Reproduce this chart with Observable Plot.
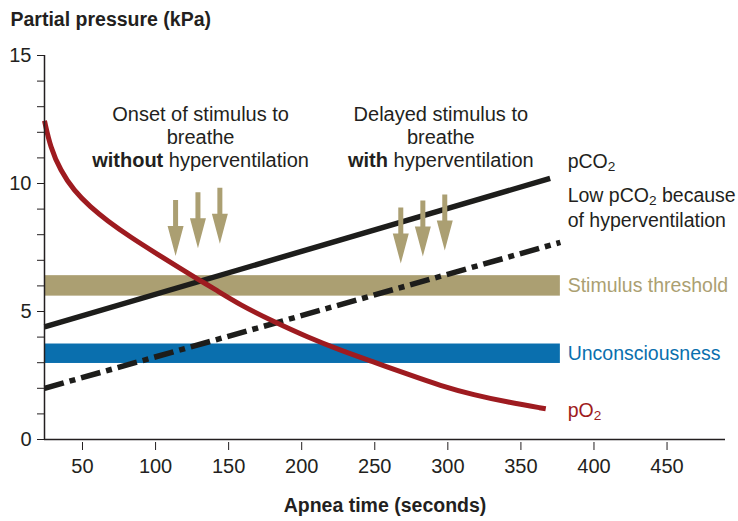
<!DOCTYPE html>
<html>
<head>
<meta charset="utf-8">
<script src="https://cdn.jsdelivr.net/npm/d3@7"></script>
<script src="https://cdn.jsdelivr.net/npm/@observablehq/plot@0.6"></script>
<style>
  body { margin: 0; background: #fff; }
</style>
</head>
<body>
<div id="chart"></div>
<script>
// ---------- data ----------
const xDomain = [24, 490];
const yDomain = [0, 15];
const xTicks = [50, 100, 150, 200, 250, 300, 350, 400, 450];
const yTicks = [0, 1, 2, 3, 4, 5, 6, 7, 8, 9, 10, 11, 12, 13, 14, 15];
const yLabeledTicks = [0, 5, 10, 15];

// pO2 curve (kPa) vs apnea time (s)
const pO2Time  = [24, 28, 35, 44, 55.5, 66.9, 82.9, 101, 117, 130.8, 139.7, 158, 181, 203.9, 226.7, 249.5, 272, 295, 317.8, 340.9, 367];
const pO2Value = [12.45, 11.42, 10.5, 9.73, 9.07, 8.55, 7.9, 7.25, 6.68, 6.2, 5.9, 5.25, 4.6, 4.0, 3.48, 3.02, 2.56, 2.1, 1.74, 1.46, 1.2];

// pCO2 normal and after hyperventilation
const pCO2Time  = [24, 370];
const pCO2Value = [4.4, 10.2];
const lowCO2Time  = [24, 377];
const lowCO2Value = [2.0, 7.7];

// threshold bands
const bandNames = ["Stimulus threshold", "Unconsciousness"];
const bandLow   = [5.6, 2.97];
const bandHigh  = [6.4, 3.73];
const bandStart = [24, 24];
const bandEnd   = [377, 377];

// stimulus arrows (top of each arrow)
const arrowX   = [113.7, 129, 144, 267.8, 282.9, 297.9];
const arrowTop = [9.36, 9.66, 9.83, 9.06, 9.34, 9.57];

// annotation texts
const noteText = ["Onset of stimulus to\nbreathe\n**without** hyperventilation",
                  "Delayed stimulus to\nbreathe\n**with** hyperventilation"];
const noteX = [130.8, 295.2];
const noteY = [10.63, 10.63];

// series labels at right
const labelText = ["pCO_2", "Low pCO_2 because\nof hyperventilation", "Stimulus threshold", "Unconsciousness", "pO_2"];
const labelX = [382, 382, 382, 382, 382];
const labelY = [10.59, 8.29, 5.75, 3.09, 0.87];

// ---------- styles ----------
const FONT = "'Liberation Sans', Arial, Helvetica, sans-serif";
const RED = "#9e1b20";
const KHAKI = "#ab9f72";
const BLUE = "#0a6fae";
const INK = "#231f20";
const bandColors = [KHAKI, BLUE];
const labelColors = [INK, INK, KHAKI, BLUE, RED];

const pO2 = pO2Time.map((t, i) => ({t, v: pO2Value[i]}));
const pCO2 = pCO2Time.map((t, i) => ({t, v: pCO2Value[i]}));
const lowCO2 = lowCO2Time.map((t, i) => ({t, v: lowCO2Value[i]}));
const bands = bandNames.map((name, i) => ({name, lo: bandLow[i], hi: bandHigh[i], x1: bandStart[i], x2: bandEnd[i], color: bandColors[i]}));
const arrows = arrowX.map((x, i) => ({x, y: arrowTop[i]}));
const notes = noteText.map((text, i) => ({text, x: noteX[i], y: noteY[i]}));
const labels = labelText.map((text, i) => ({text, x: labelX[i], y: labelY[i], color: labelColors[i]}));

const arrowShape = {
  draw(context, l) {
    const hw = 2.5, headW = 8, headL = 30;
    context.moveTo(-hw, 0);
    context.lineTo(-hw, -(l - headL));
    context.lineTo(-headW, -(l - headL));
    context.lineTo(0, -l);
    context.lineTo(headW, -(l - headL));
    context.lineTo(hw, -(l - headL));
    context.lineTo(hw, 0);
    context.closePath();
  }
};

const chart = Plot.plot({
  width: 738,
  height: 521,
  marginLeft: 44,
  marginRight: 13,
  marginTop: 55,
  marginBottom: 82,
  style: {fontFamily: FONT, fontSize: "20px", color: INK, background: "#fff", overflow: "visible"},
  x: {domain: xDomain},
  y: {domain: yDomain},
  marks: [
    Plot.rect(bands, {x1: "x1", x2: "x2", y1: "lo", y2: "hi", fill: "color"}),
    Plot.line(pCO2, {x: "t", y: "v", stroke: "#1d1d1b", strokeWidth: 5.5, strokeLinecap: "butt"}),
    Plot.line(lowCO2, {x: "t", y: "v", stroke: "#1d1d1b", strokeWidth: 5.5, strokeLinecap: "butt", strokeDasharray: "20,6,6,6"}),
    Plot.line(pO2, {x: "t", y: "v", stroke: RED, strokeWidth: 5, curve: "basis", strokeLinecap: "butt"}),
    Plot.vector(arrows, {x: "x", y: "y", length: 56, rotate: 180, anchor: "start", shape: arrowShape, fill: KHAKI, stroke: "none"}),
    Plot.axisY({ticks: yTicks, tickFormat: d => yLabeledTicks.includes(d) ? String(d) : "", tickSize: 7, tickPadding: 6, label: null, fontSize: 20, stroke: INK}),
    Plot.axisX({ticks: xTicks, tickSize: 8, tickPadding: 8, dy: 3, label: null, fontSize: 20, stroke: INK}),
    Plot.ruleX([xDomain[0]], {y1: yDomain[0], y2: yDomain[1], stroke: INK, strokeWidth: 1.5}),
    Plot.ruleY([yDomain[0]], {x1: xDomain[0], x2: xDomain[1], stroke: INK, strokeWidth: 1.5}),
    Plot.text(notes, {x: "x", y: "y", text: "text", textAnchor: "middle", lineAnchor: "bottom", lineHeight: 1.17, fontSize: 20, fill: INK}),
    Plot.text(labels, {x: "x", y: "y", text: "text", textAnchor: "start", lineAnchor: "bottom", lineHeight: 1.3, fontSize: 19.5, fill: "color"}),
    Plot.text(["Partial pressure (kPa)"], {text: d => d, frameAnchor: "top-left", dx: -34, dy: -30, textAnchor: "start", lineAnchor: "bottom", fontWeight: "bold", fontSize: 19.5, fill: INK}),
    Plot.text(["Apnea time (seconds)"], {text: d => d, frameAnchor: "bottom", dy: 72, textAnchor: "middle", lineAnchor: "bottom", fontWeight: "bold", fontSize: 19.5, fill: INK})
  ]
});

// rich text: **bold** and _2 subscripts
const NS = "http://www.w3.org/2000/svg";
function enrich(el) {
  const s = el.textContent;
  if (!/(\*\*|_\d)/.test(s)) return;
  while (el.firstChild) el.removeChild(el.firstChild);
  for (const p of s.split(/(\*\*[^*]+\*\*|_\d)/)) {
    if (!p) continue;
    if (p.startsWith("**")) {
      const t = document.createElementNS(NS, "tspan");
      t.setAttribute("font-weight", "bold");
      t.textContent = p.slice(2, -2);
      el.appendChild(t);
    } else if (p.startsWith("_")) {
      const t = document.createElementNS(NS, "tspan");
      t.setAttribute("baseline-shift", "-3");
      t.setAttribute("font-size", "70%");
      t.textContent = p.slice(1);
      el.appendChild(t);
    } else {
      el.appendChild(document.createTextNode(p));
    }
  }
}
chart.querySelectorAll("text, tspan").forEach(el => { if (el.children.length === 0) enrich(el); });

document.getElementById("chart").appendChild(chart);
</script>
</body>
</html>
